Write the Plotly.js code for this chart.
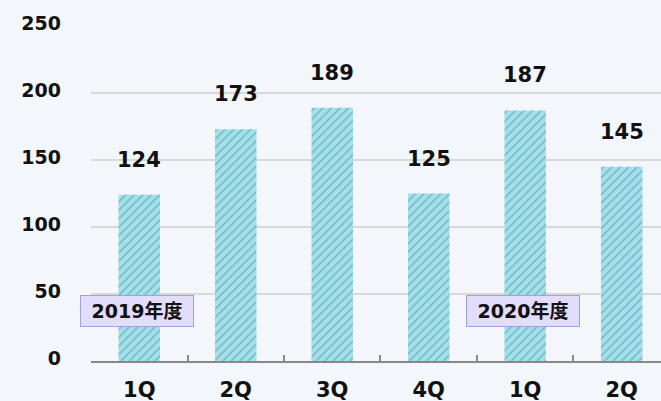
<!DOCTYPE html>
<html>
<head>
<meta charset="utf-8">
<script src="https://cdn.plot.ly/plotly-3.0.1.min.js"></script>
<style>
html,body{margin:0;padding:0;background:#f3f6fb;}
#chart{width:661px;height:401px;}
</style>
</head>
<body>
<div id="chart"></div>
<script>
const categories = ["1Q", "2Q", "3Q", "4Q", "1Q ", "2Q "];
const tickLabels = ["1Q", "2Q", "3Q", "4Q", "1Q", "2Q"];
const values = [124, 173, 189, 125, 187, 145];
const yearLabels = ["2019年度", "2020年度"];
const yearLabelIndex = [0, 4];

const FONT = 'Verdana, "DejaVu Sans", "Noto Sans CJK JP", sans-serif';

const trace = {
  type: "bar",
  x: categories,
  y: values,
  width: 0.43,
  marker: {
    color: "#a9dde6",
    line: {width: 0},
    pattern: {shape: "/", fgcolor: "#55bbcb", bgcolor: "#aadee6", size: 6, solidity: 0.22}
  },
  hoverinfo: "none"
};

const annotations = values.map((v, i) => ({
  x: categories[i], y: v, xref: "x", yref: "y",
  text: String(v), showarrow: false,
  yanchor: "middle", yshift: 35,
  font: {family: FONT, size: 21, color: "#111", weight: "bold"}
}));

yearLabels.forEach((t, k) => {
  annotations.push({
    x: categories[yearLabelIndex[k]], y: 37, xref: "x", yref: "y",
    text: "<b>" + t + "</b>", showarrow: false,
    xshift: -2,
    xanchor: "center", yanchor: "middle",
    bgcolor: "#e1ddfb", bordercolor: "#a79ce6", borderwidth: 1, borderpad: 2,
    width: 108, height: 26,
    font: {family: FONT, size: 19, color: "#111"}
  });
});

const layout = {
  width: 661, height: 401,
  margin: {l: 91, r: 0, t: 26, b: 40, pad: 0},
  paper_bgcolor: "#f3f6fb",
  plot_bgcolor: "#f3f6fb",
  showlegend: false,
  xaxis: {
    type: "category",
    range: [-0.5, 5.407],
    tickvals: categories,
    ticktext: tickLabels,
    tickson: "boundaries",
    ticks: "inside", ticklen: 6, tickwidth: 2, tickcolor: "#888",
    showline: true, linecolor: "#888", linewidth: 2,
    showgrid: false, zeroline: false,
    ticklabelstandoff: 9,
    tickfont: {family: FONT, size: 21, color: "#111", weight: "bold"}
  },
  yaxis: {
    range: [0, 250],
    dtick: 50,
    showgrid: true, gridcolor: "#d9d9d9", gridwidth: 2,
    zeroline: false, showline: false,
    ticks: "", ticklabelstandoff: 29, ticklabelshift: -3,
    tickfont: {family: FONT, size: 19, color: "#111", weight: "bold"}
  },
  annotations: annotations
};

Plotly.newPlot("chart", [trace], layout, {staticPlot: true, displayModeBar: false});
</script>
</body>
</html>
